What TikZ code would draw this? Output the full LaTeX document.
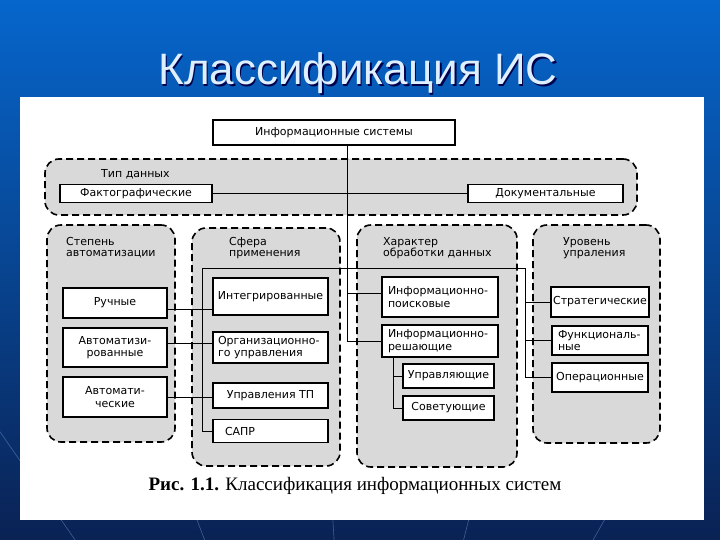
\documentclass[tikz,border=0pt]{standalone}
\usepackage{fontspec}
\setmainfont{DejaVu Sans}
\newfontfamily\titlefont{Liberation Sans}
\newfontfamily\capfont{Liberation Serif}
\usetikzlibrary{positioning,calc}

\definecolor{topblue}{RGB}{6,102,204}
\definecolor{midblue}{RGB}{14,80,168}
\definecolor{botblue}{RGB}{10,34,84}
\definecolor{titlecol}{RGB}{222,240,255}
\definecolor{raycol}{RGB}{120,170,230}

\begin{document}
\begin{tikzpicture}[
  x=1pt,
  y=-1pt,
  box/.style={draw=black, line width=1.3pt, fill=white, inner sep=2pt, align=center, font=\fontsize{11}{12.5}\selectfont},
  lbox/.style={box, align=left, inner xsep=6pt, text width=#1},
  grpbox/.style={draw=black, line width=1.6pt, dash pattern=on 7pt off 4pt, rounded corners=14pt, fill=black!15},
  glabel/.style={anchor=west, inner sep=0pt, align=left, font=\fontsize{11}{11}\selectfont},
  link/.style={line width=0.9pt, draw=black},
]
\useasboundingbox (0,0) rectangle (720,540);

% slide background
\shade[top color=topblue, middle color=midblue, bottom color=botblue] (0,0) rectangle (720,540);
\begin{scope}
  \clip (0,380) rectangle (720,540);
  \foreach \x in {-1500,-1200,...,2300}
    \draw[raycol, opacity=0.45, line width=0.6pt] (360,950) -- (\x,0);
\end{scope}

\node[anchor=base, font=\titlefont\fontsize{44}{44}\selectfont, text=black!70!blue] (titleshadow) at (359.5,86.5) {Классификация ИС};
\node[anchor=base, font=\titlefont\fontsize{44}{44}\selectfont, text=titlecol] (title) at (358,85) {Классификация ИС};

\fill[white] (20,97) rectangle (704,520);

% groups
\node[grpbox, minimum width=592, minimum height=56] (gtip) at (341,187) {};
\node[grpbox, minimum width=128, minimum height=217] (gauto) at (111,333.5) {};
\node[grpbox, minimum width=148, minimum height=238] (gsfera) at (266,347) {};
\node[grpbox, minimum width=160, minimum height=242] (gchar) at (437,346) {};
\node[grpbox, minimum width=127, minimum height=218] (gurov) at (596.5,334) {};

\node[glabel] (ltip) at (101,174) {Тип данных};
\node[glabel] (lauto) at (66,248) {Степень\\автоматизации};
\node[glabel] (lsfera) at (229,248) {Сфера\\применения};
\node[glabel] (lchar) at (383,248) {Характер\\обработки данных};
\node[glabel] (lurov) at (563,248) {Уровень\\упраления};

% junctions
\coordinate (jt) at (347,194);
\coordinate (jh) at (347,268);
\coordinate (jl) at (202,268);
\coordinate (jr) at (525,268);
\coordinate (jc) at (347,341);
\coordinate (jd) at (393,357);

% boxes
\node[box, minimum width=242, minimum height=25] (is) at (334,132.5) {Информационные системы};
\node[box, minimum width=152, minimum height=18] (fakt) at (136,193.5) {Фактографические};
\node[box, minimum width=155, minimum height=18] (dok) at (545.5,193.5) {Документальные};

\node[box, minimum width=104, minimum height=30] (ruch) at (115,303) {Ручные};
\node[box, minimum width=104, minimum height=39] (avtz) at (115,347.5) {Автоматизи-\\рованные};
\node[box, minimum width=104, minimum height=40] (avt) at (115,397) {Автомати-\\ческие};

\node[box, minimum width=115, minimum height=37] (integ) at (270.5,296.5) {Интегрированные};
\node[lbox=105, inner xsep=5pt, minimum height=31] (org) at (270.5,347.5) {Организационно-\\го управления};
\node[box, minimum width=115, minimum height=25] (utp) at (270.5,395.5) {Управления ТП};
\node[lbox=103, minimum height=23] (sapr) at (270.5,431) {\hspace*{6pt}САПР};

\node[lbox=104, minimum height=40] (ips) at (440,297) {Информационно-\\поисковые};
\node[lbox=104, minimum height=32] (irs) at (440,341) {Информационно-\\решающие};
\node[box, minimum width=91, minimum height=24] (upr) at (448.5,376) {Управляющие};
\node[box, minimum width=91, minimum height=24] (sov) at (448.5,408) {Советующие};

\node[box, minimum width=96, minimum height=30] (strat) at (600,302) {Стратегические};
\node[lbox=84, minimum height=29] (func) at (600,340.5) {Функциональ-\\ные};
\node[box, minimum width=96, minimum height=29] (oper) at (600,377.5) {Операционные};

% connectors
\draw[link] (fakt.east) -- (dok.west);
\draw[link] (is.south -| jh) -- (jc);
\draw[link] (jl) -- (jr);
\draw[link] (jl) |- (sapr.west);
\draw[link] (jr) |- (oper.west);
\draw[link] (jr |- strat.west) -- (strat.west);
\draw[link] (jr |- func.west) -- (func.west);
\coordinate (p1) at ([yshift=4pt]ips.west);
\draw[link] (jc |- p1) -- (p1);
\draw[link] (jc) -- (irs.west);
\draw[link] (jd) |- (sov.west);
\draw[link] (jd |- upr.west) -- (upr.west);
\coordinate (r1) at ([yshift=-6pt]ruch.east);
\draw[link] (r1) -- (r1 -| integ.west);
\coordinate (r2) at ([yshift=4pt]avtz.east);
\draw[link] (r2) -- (r2 -| org.west);
\draw[link] (avt.east) -- (avt.east -| utp.west);

\node[anchor=base, font=\capfont\fontsize{19}{19}\selectfont] (caption) at (355,490) {\textbf{Рис. 1.1.} Классификация информационных систем};

\end{tikzpicture}
\end{document}
